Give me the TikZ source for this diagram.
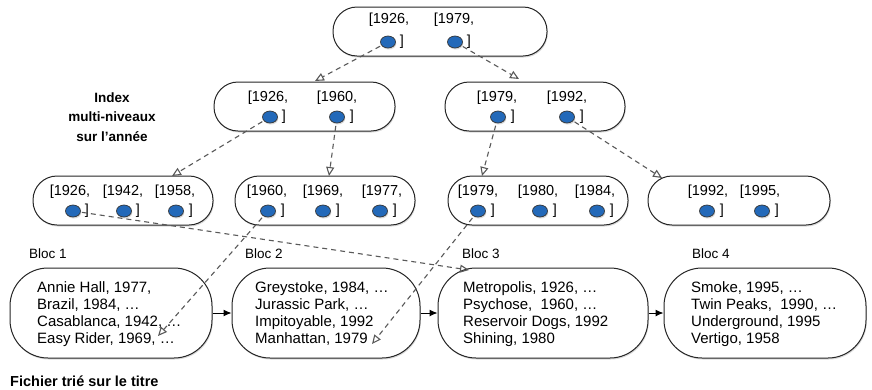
\documentclass[tikz,border=0pt]{standalone}
\usepackage{fontspec}
\setmainfont{Liberation Sans}
\usetikzlibrary{arrows.meta,shadows,shapes.geometric}
\definecolor{dotblue}{RGB}{35,105,185}
\begin{document}
\begin{tikzpicture}[x=1pt,y=-1pt,
  sh/.style={drop shadow={shadow xshift=0.8pt,shadow yshift=-1.5pt,opacity=0.3}},
  idx/.style={draw=black!85,line width=1pt,fill=white,rounded corners=24pt,minimum height=49pt,inner sep=0pt,sh},
  bloc/.style={draw=black!85,line width=1pt,fill=white,rounded corners=38pt,minimum height=90pt,inner sep=0pt,sh},
  dot/.style={ellipse,draw=black!80,line width=0.7pt,fill=dotblue,minimum width=15pt,minimum height=12pt,inner sep=0pt,sh},
  yr/.style={font=\fontsize{14.5}{15}\selectfont,inner sep=0pt},
  lbl/.style={font=\fontsize{13.5}{15}\selectfont,inner sep=0pt,anchor=west},
  btxt/.style={anchor=west,align=left,font=\fontsize{15}{17}\selectfont,inner sep=0pt},
  bold/.style={font=\fontsize{13.5}{19.5}\selectfont\bfseries,inner sep=0pt,align=center},
  dasharrow/.style={draw=black!65,line width=1.1pt,dash pattern=on 5pt off 4pt,-{Triangle[open,length=9pt,width=8pt]}},
  solidarrow/.style={draw=black,line width=1pt,-{Latex[length=8pt,width=7pt]}}]
\useasboundingbox (0,0) rectangle (872,389);

% index nodes
\node[idx,minimum width=214pt] (root) at (440,31.5) {};
\node[idx,minimum width=181pt] (l2a) at (304.5,106.5) {};
\node[idx,minimum width=180pt] (l2b) at (535,106.5) {};
\node[idx,minimum width=180pt] (l3a) at (123,200.5) {};
\node[idx,minimum width=180pt] (l3b) at (325,200.5) {};
\node[idx,minimum width=180pt] (l3c) at (538,200.5) {};
\node[idx,minimum width=182pt] (l3d) at (739,200.5) {};

% blocks
\node[bloc,minimum width=202pt] (b1) at (111,313) {};
\node[bloc,minimum width=188pt] (b2) at (326,313) {};
\node[bloc,minimum width=210pt] (b3) at (543,313) {};
\node[bloc,minimum width=202pt] (b4) at (765,313) {};

% year texts
\node[yr] (rt1) at (389,20) {[1926,};
\node[yr] (rt2) at (454,20) {[1979,};
\node[yr] (at1) at (268,98) {[1926,};
\node[yr] (at2) at (337,98) {[1960,};
\node[yr] (bt1) at (497,98) {[1979,};
\node[yr] (bt2) at (567,98) {[1992,};
\node[yr] (ct1) at (70,192) {[1926,};
\node[yr] (ct2) at (123,192) {[1942,};
\node[yr] (ct3) at (175,192) {[1958,};
\node[yr] (dt1) at (267,192) {[1960,};
\node[yr] (dt2) at (323,192) {[1969,};
\node[yr] (dt3) at (382,192) {[1977,};
\node[yr] (et1) at (478,192) {[1979,};
\node[yr] (et2) at (538,192) {[1980,};
\node[yr] (et3) at (595,192) {[1984,};
\node[yr] (ft1) at (708,192) {[1992,};
\node[yr] (ft2) at (760,192) {[1995,};

% closing brackets
\node[yr] (rb1) at (402,42) {]};
\node[yr] (rb2) at (469,42) {]};
\node[yr] (ab1) at (284,117) {]};
\node[yr] (ab2) at (352,117) {]};
\node[yr] (bb1) at (513,117) {]};
\node[yr] (bb2) at (582,117) {]};
\node[yr] (cb1) at (87,211) {]};
\node[yr] (cb2) at (138,211) {]};
\node[yr] (cb3) at (191,211) {]};
\node[yr] (db1) at (283,211) {]};
\node[yr] (db2) at (338,211) {]};
\node[yr] (db3) at (395,211) {]};
\node[yr] (eb1) at (493,211) {]};
\node[yr] (eb2) at (555,211) {]};
\node[yr] (eb3) at (612,211) {]};
\node[yr] (fb1) at (722,211) {]};
\node[yr] (fb2) at (777,211) {]};

% dot positions
\coordinate (r1) at (388,42);
\coordinate (r2) at (455,42);
\coordinate (a1) at (270,117);
\coordinate (a2) at (337,117);
\coordinate (bq1) at (498,117);
\coordinate (bq2) at (567,117);
\coordinate (c1) at (73,211);
\coordinate (c2) at (124,211);
\coordinate (c3) at (176,211);
\coordinate (d1) at (268,211);
\coordinate (d2) at (323,211);
\coordinate (d3) at (380,211);
\coordinate (e1) at (478,211);
\coordinate (e2) at (540,211);
\coordinate (e3) at (597,211);
\coordinate (f1) at (707,211);
\coordinate (f2) at (762,211);

% arrow tips
\coordinate (t1) at (315,81);
\coordinate (t2) at (519,79);
\coordinate (t3) at (172,176);
\coordinate (t4) at (329,176);
\coordinate (t5) at (482,176);
\coordinate (t6) at (662,178);
\coordinate (t7) at (469,270);
\coordinate (t8) at (158,336);
\coordinate (t9) at (372,344);

% dashed pointers
\draw[dasharrow] (r1) -- (t1);
\draw[dasharrow] (r2) -- (t2);
\draw[dasharrow] (a1) -- (t3);
\draw[dasharrow] (a2) -- (t4);
\draw[dasharrow] (bq1) -- (t5);
\draw[dasharrow] (bq2) -- (t6);
\draw[dasharrow] (c1) -- (t7);
\draw[dasharrow] (d1) -- (t8);
\draw[dasharrow] (e1) -- (t9);

% dots
\foreach \p in {r1,r2,a1,a2,bq1,bq2,c1,c2,c3,d1,d2,d3,e1,e2,e3,f1,f2}
  \node[dot] (dot\p) at (\p) {};

% block chain
\draw[solidarrow] (b1.east) -- (b2.west);
\draw[solidarrow] (b2.east) -- (b3.west);
\draw[solidarrow] (b3.east) -- (b4.west);

% block labels
\node[lbl] (bl1) at (29,254) {Bloc 1};
\node[lbl] (bl2) at (245,254) {Bloc 2};
\node[lbl] (bl3) at (462,254) {Bloc 3};
\node[lbl] (bl4) at (692,254) {Bloc 4};

% block contents
\node[btxt] (b1t) at (37,314) {Annie Hall, 1977,\\Brazil, 1984, …\\Casablanca, 1942, …\\Easy Rider, 1969, …};
\node[btxt] (b2t) at (255,314) {Greystoke, 1984, …\\Jurassic Park, …\\Impitoyable, 1992\\Manhattan, 1979};
\node[btxt] (b3t) at (463,314) {Metropolis, 1926, …\\Psychose,\ \ 1960, …\\Reservoir Dogs, 1992\\Shining, 1980};
\node[btxt] (b4t) at (691,314) {Smoke, 1995, …\\Twin Peaks,\ \ 1990, …\\Underground, 1995\\Vertigo, 1958};

% captions
\node[bold] (index) at (112,117) {Index\\multi-niveaux\\sur l’année};
\node[bold,anchor=west,font=\fontsize{14.5}{17}\selectfont\bfseries] (fichier) at (10,381) {Fichier trié sur le titre};
\end{tikzpicture}
\end{document}
